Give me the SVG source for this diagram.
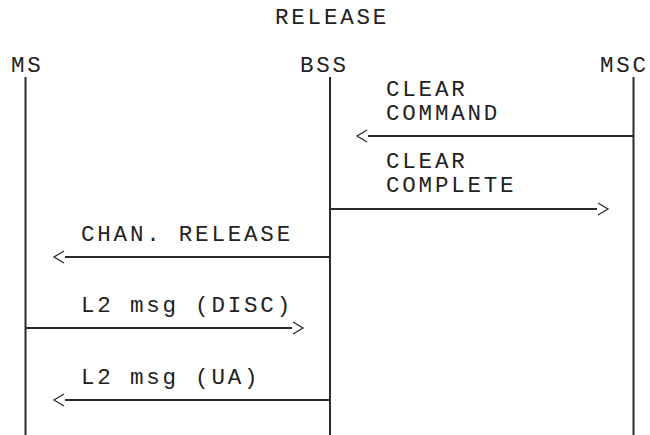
<svg xmlns="http://www.w3.org/2000/svg" width="650" height="435" viewBox="0 0 650 435">
<style>
text{font-family:"Liberation Mono","DejaVu Sans Mono",monospace;font-size:22.5px;letter-spacing:2.8px;fill:#222}
.life{stroke:#2a2a2a;stroke-width:2;fill:none}
.msg{stroke:#2a2a2a;stroke-width:2;fill:none;marker-end:url(#chev)}
</style>
<defs>
<marker id="chev" markerUnits="userSpaceOnUse" markerWidth="14" markerHeight="16" viewBox="-1 -8 14 16" refX="0" refY="0" orient="auto" overflow="visible">
<path d="M1,-6 L11,0 L1,6" fill="none" stroke="#2a2a2a" stroke-width="1.3"/>
</marker>
</defs>
<rect width="650" height="435" fill="#fff"/>
<text x="275" y="24">RELEASE</text>
<g id="MS"><text x="11" y="72">MS</text><line class="life" x1="25.5" y1="77" x2="25.5" y2="435"/></g>
<g id="BSS"><text x="300" y="72">BSS</text><line class="life" x1="330" y1="77" x2="330" y2="435"/></g>
<g id="MSC"><text x="600" y="72" letter-spacing="2.4">MSC</text><line class="life" x1="633.5" y1="77" x2="633.5" y2="435"/></g>
<g id="connectors">
<line class="msg" x1="633.5" y1="136" x2="368" y2="136"/>
<text x="386" y="96">CLEAR</text><text x="386" y="120">COMMAND</text>
<line class="msg" x1="330" y1="209" x2="597" y2="209"/>
<text x="386" y="168">CLEAR</text><text x="386" y="192">COMPLETE</text>
<line class="msg" x1="330" y1="257" x2="65" y2="257"/>
<text x="81" y="241">CHAN. RELEASE</text>
<line class="msg" x1="25.5" y1="328" x2="292" y2="328"/>
<text x="81" y="312">L2 msg (DISC)</text>
<line class="msg" x1="330" y1="400" x2="65" y2="400"/>
<text x="81" y="384">L2 msg (UA)</text>
</g>
</svg>
